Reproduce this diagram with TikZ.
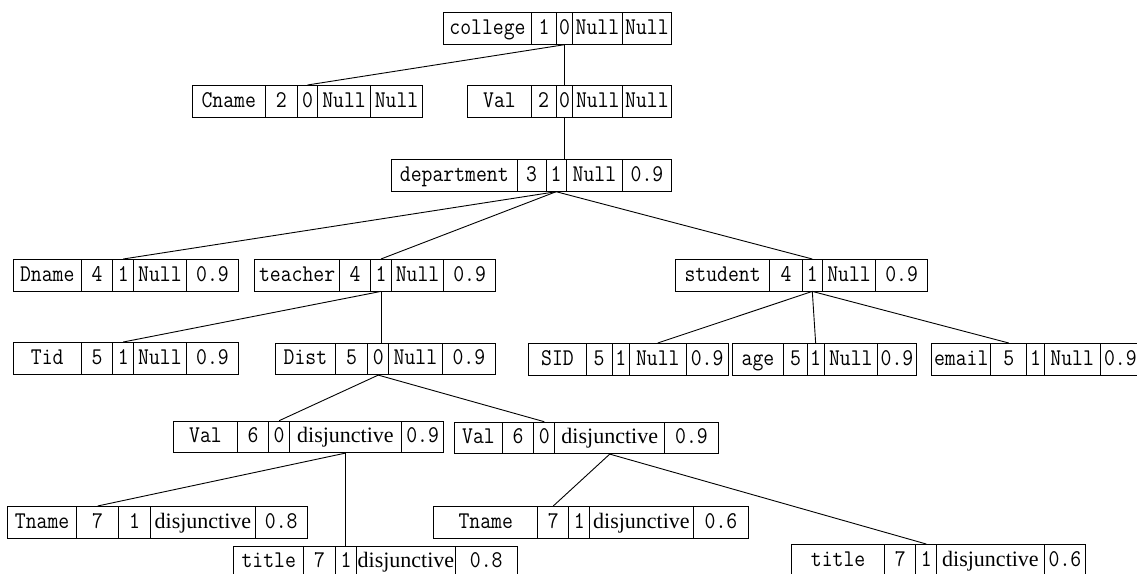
\documentclass[tikz,border=0pt]{standalone}
\usepackage{fontspec}
\setmainfont{Liberation Serif}
\setmonofont{Latin Modern Mono}[FakeStretch=0.88]
\tikzset{
  cell/.style={draw, line width=0.9pt, inner sep=0pt, minimum height=31.5pt, anchor=north west,
    font=\ttfamily\fontsize{24}{24}\selectfont, text height=15pt, text depth=3pt},
  link/.style={line width=0.9pt},
}
\newcommand\dsj{\rmfamily\fontsize{22}{22}\selectfont}
\newcommand\mycell[5]{\node[cell, minimum width={#3-#2}] (#1) at (#2,#4) {#5};}
\newcommand\rec[3]{\foreach[count=\i] \xa/\xb/\tx in {#3}{\mycell{#1\i}{\xa}{\xb}{#2}{\tx}}}
\begin{document}
\begin{tikzpicture}[x=1pt,y=-1pt]
\useasboundingbox (0,0) rectangle (1137,573);
% row 1
\rec{col}{12.3}{443/531/college, 531/556/1, 556/572/0, 572/622/Null, 622/671/Null}
% row 2
\rec{cna}{85}{191.7/265/Cname, 265/296.7/2, 296.7/317.3/0, 317.3/370/Null, 370/422.3/Null}
\rec{vb}{85}{467.3/530.7/Val, 530.7/555.7/2, 555.7/572.3/0, 572.3/622.3/Null, 622.3/670.7/Null}
% row 3
\rec{dep}{159.3}{391/516.7/department, 516.7/545.7/3, 545.7/565.7/1, 565.7/622.3/Null, 622.3/670.7/0.9}
% row 4
\rec{dna}{259}{12.7/81/Dname, 81/112.3/4, 112.3/133.3/1, 133.3/185.7/Null, 185.7/238.3/0.9}
\rec{tea}{259}{254.3/339/teacher, 339/370/4, 370/391/1, 391/443.3/Null, 443.3/495/0.9}
\rec{stu}{259}{675/769.3/student, 769.3/801.7/4, 801.7/822/1, 822/875.3/Null, 875.3/927/0.9}
% row 5
\rec{tid}{342}{12.7/81/Tid, 81/112.3/5, 112.3/133.3/1, 133.3/185.7/Null, 185.7/238.3/0.9}
\rec{dis}{342.7}{275/335/Dist, 335/367.3/5, 367.3/388.3/0, 388.3/441.7/Null, 441.7/495/0.9}
\rec{sid}{343}{528.3/585.7/SID, 585.7/611.7/5, 611.7/629/1, 629/685.7/Null, 685.7/727.7/0.9}
\rec{age}{343}{731.7/783.3/age, 783.3/806.7/5, 806.7/823.7/1, 823.7/877/Null, 877/916/0.9}
\rec{ema}{343}{931.3/990.3/email, 990.3/1026.3/5, 1026.3/1043.7/1, 1043.7/1099.7/Null, 1099.7/1140/0.9}
% row 6
\rec{vl}{420.7}{173.3/236.7/Val, 236.7/268.3/6, 268.3/289/0, 289/401/{\dsj disjunctive}, 401/443.3/0.9}
\rec{vr}{421.7}{454.3/501.7/Val, 501.7/533.3/6, 533.3/554.3/0, 554.3/664.3/{\dsj disjunctive}, 664.3/717.7/0.9}
% row 7
\rec{tl}{506}{7.3/76/Tname, 76/118.3/7, 118.3/150/1, 150/255/{\dsj disjunctive}, 255/306.7/0.8}
\rec{tr}{506}{433.3/537.3/Tname, 537.3/568.3/7, 568.3/589.3/1, 589.3/692.7/{\dsj disjunctive}, 692.7/748.3/0.6}
% row 8
\rec{il}{545.7}{233.3/303.3/title, 303.3/335/7, 335/356/1, 356/455/{\dsj disjunctive}, 455/516.7/0.8}
\rec{ir}{544}{791/884.3/title, 884.3/915.3/7, 915.3/936.3/1, 936.3/1043.7/{\dsj disjunctive}, 1043.7/1085.3/0.6}
% connectors
\draw[link] (col3.south) -- (cna3.north);
\draw[link] (col3.south) -- (vb3.north);
\draw[link] (vb3.south) -- (vb3.south |- dep3.north);
\draw[link] (dep3.south) -- (dna3.north);
\draw[link] (dep3.south) -- (tea3.north);
\draw[link] (dep3.south) -- (stu3.north);
\draw[link] (tea3.south) -- (tid3.north);
\draw[link] (tea3.south) -- (tea3.south |- dis3.north);
\draw[link] (stu3.south) -- (sid4.north);
\draw[link] (stu3.south) -- (age3.north);
\draw[link] (stu3.south) -- (ema2.north);
\draw[link] (dis3.south) -- (vl3.north);
\draw[link] (dis3.south) -- (vr3.north);
\draw[link] (vl4.south) -- (tl2.north);
\draw[link] (vl4.south) -- (vl4.south |- il3.north);
\draw[link] (vr4.south) -- (tr2.north);
\draw[link] (vr4.south) -- (ir3.north);
\end{tikzpicture}
\end{document}
